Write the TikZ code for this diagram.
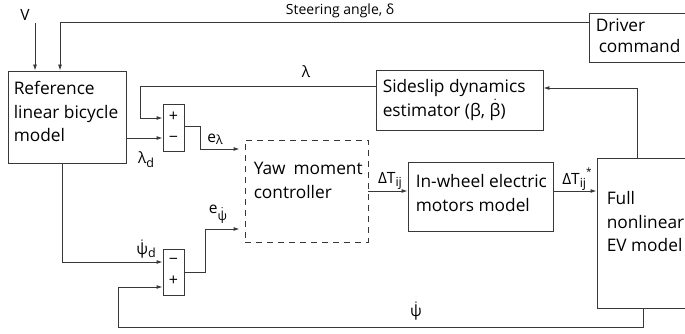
\documentclass[tikz,border=0pt]{standalone}
\usepackage{amsmath}
\usepackage{fontspec}
\setmainfont{Open Sans}
\usetikzlibrary{arrows.meta}
\newcommand\dotsym[1]{\ensuremath{\dot{\text{#1}}}}
\newcommand\lowsub[2][-2.5pt]{\raisebox{#1}{\fontsize{12.5}{12.5}\selectfont #2}}
\begin{document}
\begin{tikzpicture}[x=1pt,y=-1pt,
  every node/.style={inner sep=0pt},
  ln/.style={draw=black!78,line width=0.9pt},
  arr/.style={ln,-{Latex[length=6pt,width=4pt]}},
  blk/.style={ln,rectangle},
  txt/.style={font=\fontsize{17.3}{23.5}\selectfont,align=left,anchor=north west},
  lab/.style={font=\fontsize{15.5}{17}\selectfont},
  sgn/.style={blk,minimum width=21pt,align=center,font=\fontsize{16}{21}\selectfont}]
\useasboundingbox (0,0) rectangle (685,334);
\clip (0,0) rectangle (685,334);

% blocks
\node[blk,minimum width=118pt,minimum height=92pt,
  label={[txt,xshift=6pt,yshift=-10.9pt]north west:Reference\\linear bicycle\\model}] (ref) at (67,117) {};
\node[blk,minimum width=111pt,minimum height=49pt,
  label={[txt,xshift=7pt,yshift=-5.9pt,font=\fontsize{17.3}{21}\selectfont]north west:Driver\\\hspace{3pt}command}] (drv) at (644.5,37.5) {};
\node[blk,minimum width=167pt,minimum height=60pt,
  label={[txt,xshift=7pt,yshift=-9.9pt]north west:Sideslip dynamics\\estimator (β, \dotsym{β})}] (side) at (459.5,100) {};
\node[blk,dash pattern=on 6pt off 5pt,minimum width=123pt,minimum height=102pt,
  label={[txt,xshift=9pt,yshift=-22.6pt]north west:Yaw\hspace{8pt}moment\\controller}] (yaw) at (306.5,191) {};
\node[blk,minimum width=145pt,minimum height=69pt,
  label={[txt,xshift=8pt,yshift=-12.9pt]north west:In-wheel electric\\motors model}] (mot) at (480.5,196.5) {};
\node[blk,minimum width=103pt,minimum height=150pt,
  label={[txt,xshift=10pt,yshift=-33.9pt]north west:Full\\nonlinear\\EV model}] (full) at (648.5,233) {};
\node[sgn,minimum height=47pt] (sum1) at (173.5,127.5) {+\\−};
\node[sgn,minimum height=46pt] (sum2) at (173.5,272) {−\\+};

% labels
\node[lab] (vlab) at (25,15) {V};
\node[lab,font=\fontsize{14}{16}\selectfont] (stlab) at (340,11) {Steering angle, δ};
\node[lab] (lamlab) at (306,72) {λ};
\node[lab] (lamdlab) at (146,160) {λ\lowsub[-4pt]{d}};
\node[lab] (elab) at (215,139) {e\lowsub[-2pt]{λ}};
\node[lab] (epsilab) at (218,214) {e\lowsub[-7pt]{\dotsym{ψ}}};
\node[lab] (psidlab) at (146,249) {\dotsym{ψ}\lowsub[-3pt]{d}};
\node[lab] (dt1) at (390,181) {ΔT\lowsub{ij}};
\node[lab] (dt2) at (577,179) {ΔT\lowsub{ij}\raisebox{9pt}{\fontsize{10}{10}\selectfont *}};
\node[lab] (psilab) at (416,311) {\dotsym{ψ}};

% connectors
\coordinate (vin) at (35,23);
\draw[arr] (vin) -- (ref.north -| vin);
\draw[arr] (drv.west |- 0,22) -| (ref.north -| 60,0);
\draw[arr] (side.west |- 0,86) -| (140,118) -- (sum1.west |- 0,118);
\draw[arr] (ref.east |- 0,138) -- (sum1.west |- 0,138);
\draw[arr,shorten >=5pt] (sum1.east |- 0,126) -- (200,126) |- (yaw.west |- 0,149);
\draw[arr] (ref.south -| 62,0) |- (sum2.west |- 0,262);
\draw[arr,shorten >=5pt] (sum2.east |- 0,272) -- (205,272) |- (yaw.west |- 0,229);
\draw[arr] (yaw.east |- 0,191) -- (mot.west |- 0,191);
\draw[arr] (mot.east |- 0,191) -- (full.west |- 0,191);
\draw[arr] (full.north -| 637,0) |- (side.east |- 0,88);
\draw[arr] (full.south -| 643,0) -- (643,327) -| (118,287) -- (sum2.west |- 0,287);
\end{tikzpicture}
\end{document}
